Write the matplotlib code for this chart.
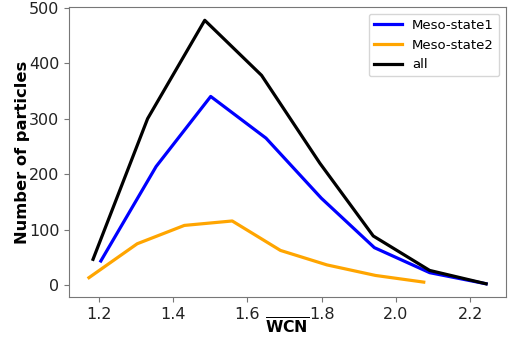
import matplotlib
matplotlib.use("Agg")
import matplotlib.pyplot as plt

x_meso1 = [1.205, 1.354, 1.501, 1.650, 1.799, 1.942, 2.091, 2.243]
y_meso1 = [44, 214, 340, 265, 157, 68, 23, 3]

x_meso2 = [1.173, 1.303, 1.430, 1.559, 1.689, 1.814, 1.945, 2.075]
y_meso2 = [14, 75, 108, 116, 63, 37, 18, 6]

x_all = [1.184, 1.331, 1.485, 1.638, 1.795, 1.939, 2.091, 2.243]
y_all = [47, 300, 477, 378, 220, 89, 27, 3]

fig = plt.figure(figsize=(5.08, 3.39), dpi=100)
ax = fig.add_axes([0.136, 0.124, 0.860, 0.855])
ax.plot(x_meso1, y_meso1, color="blue", lw=2.3, label="Meso-state1")
ax.plot(x_meso2, y_meso2, color="orange", lw=2.3, label="Meso-state2")
ax.plot(x_all, y_all, color="black", lw=2.3, label="all")
ax.set_xticks([1.2, 1.4, 1.6, 1.8, 2.0, 2.2])
ax.set_yticks([0, 100, 200, 300, 400, 500])
ax.tick_params(labelsize=11.5, labelcolor="#222222", color="#777777")
ax.set_xlabel(r"$\overline{\mathbf{WCN}}$", fontsize=11.3)
ax.xaxis.set_label_coords(0.5, -0.068)
ax.set_ylabel("Number of particles", fontsize=11.7, fontweight="bold")
ax.yaxis.set_label_coords(-0.089, 0.5)
for s in ax.spines.values():
    s.set_color("#777777")
ax.legend(fontsize=9.5, loc="upper right", handlelength=2.1)
fig.savefig("out.png", dpi=100)
